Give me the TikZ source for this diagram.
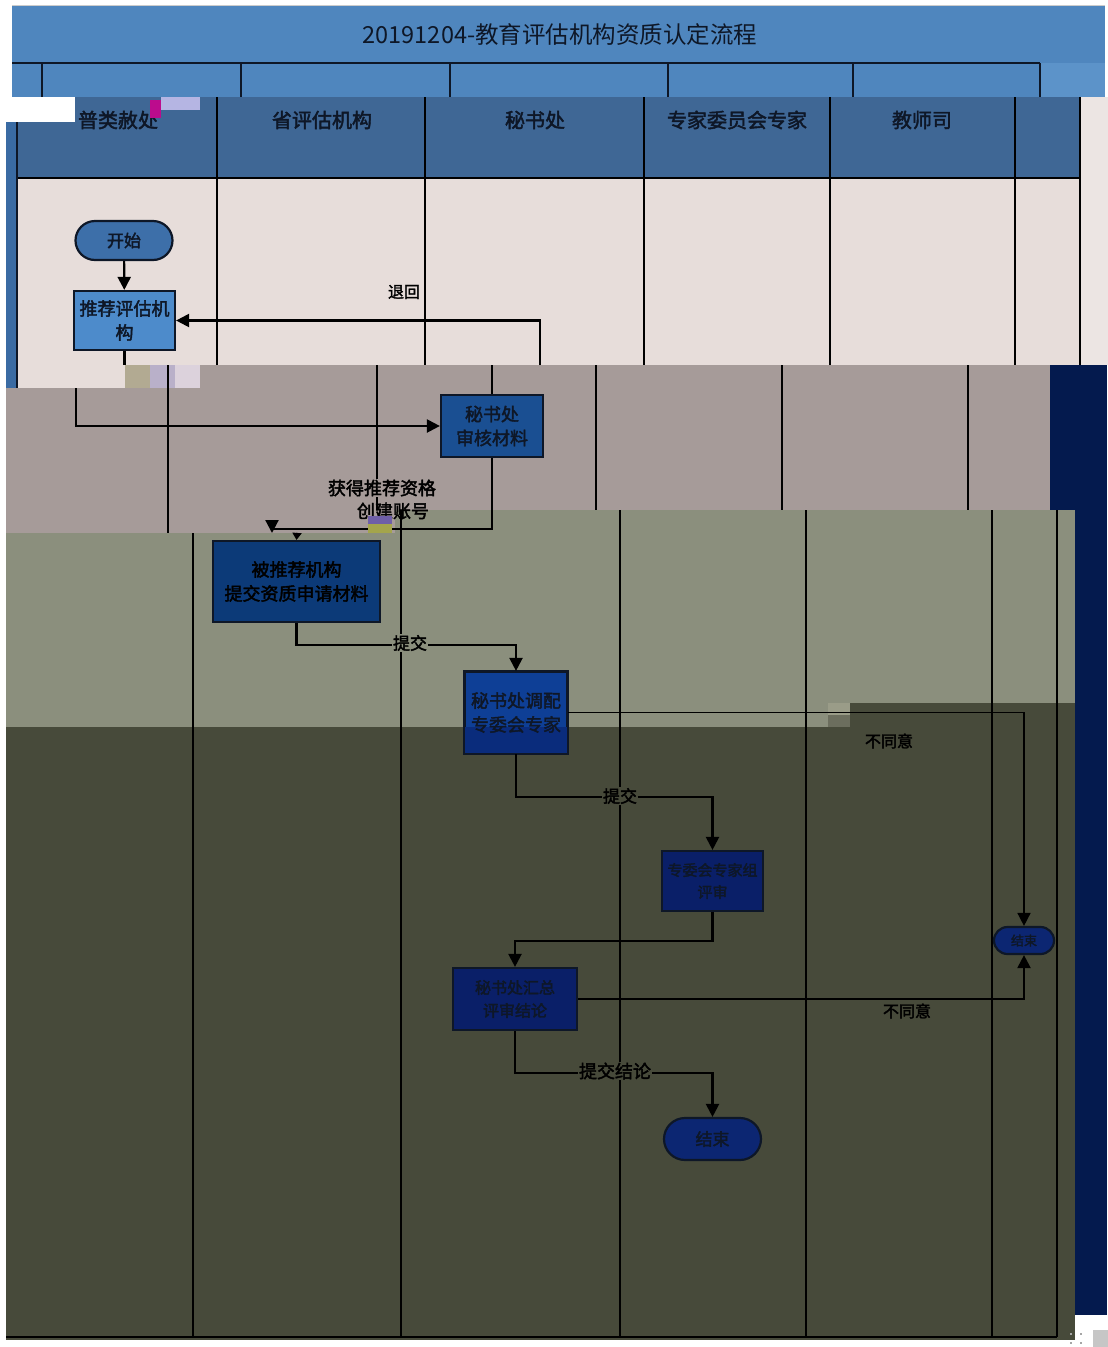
\documentclass[tikz,border=0pt]{standalone}
\usepackage{fontspec}
\setmainfont{Noto Sans CJK SC}[AutoFakeBold=2.2]
\usetikzlibrary{arrows.meta,shapes.misc}
\definecolor{titleblue}{HTML}{4F86BE}
\definecolor{titlelight}{HTML}{5C93C9}
\definecolor{hdrblue}{HTML}{3F6795}
\definecolor{stripblue}{HTML}{3A6BA3}
\definecolor{pinkbg}{HTML}{E7DDDA}
\definecolor{edgelight}{HTML}{ECE5E3}
\definecolor{mauve}{HTML}{A69B99}
\definecolor{sage}{HTML}{8B8F7D}
\definecolor{olive}{HTML}{474A3A}
\definecolor{navystrip}{HTML}{041A4E}
\definecolor{inkdark}{HTML}{0E1727}
\definecolor{startfill}{HTML}{3D6FA9}
\definecolor{lightbox}{HTML}{4D8BCB}
\definecolor{secbox}{HTML}{1A4F92}
\definecolor{dbox}{HTML}{0C3A78}
\definecolor{boxthree}{HTML}{0E3F96}
\definecolor{boxthreedark}{HTML}{0A2C7C}
\definecolor{ebox}{HTML}{0A1F68}
\definecolor{endfill}{HTML}{0C2672}
\definecolor{gA}{HTML}{B2AA92}
\definecolor{gB}{HTML}{B9B0C9}
\definecolor{gC}{HTML}{DCD2DC}
\definecolor{gD}{HTML}{9A9C88}
\definecolor{gE}{HTML}{6C6E5E}
\definecolor{gF}{HTML}{6F5FA8}
\definecolor{gG}{HTML}{A4A54C}
\tikzset{
  lane/.style={draw=black, line width=2.6pt},
  conn/.style={draw=black, line width=2.2pt},
  arr/.style={-{Triangle[length=13pt,width=13pt]}},
  proc/.style={draw=inkdark, line width=2.2pt, rectangle, align=center, inner sep=2pt,
     font=\fontsize{18}{24}\selectfont\bfseries},
  term/.style={draw=inkdark, line width=2.2pt, rounded rectangle, align=center, inner sep=2pt,
     font=\fontsize{17}{20}\selectfont\bfseries},
  hdr/.style={text=inkdark, font=\fontsize{20}{24}\selectfont\bfseries},
  lbl/.style={text=black, inner sep=1pt, font=\fontsize{17}{20}\selectfont\bfseries},
}
\begin{document}
\begin{tikzpicture}[x=1pt,y=-1pt]
\useasboundingbox (0,0) rectangle (1108,1347);
\fill[white] (0,0) rectangle (1108,1347);
% ---------- band A : title ----------
\fill[titleblue] (12,5) rectangle (1105,63);
\draw[gray!40, line width=1pt] (12,5) -- (1105,5);
\fill[titleblue] (12,63) rectangle (1040,97);
\fill[titlelight] (1040,63) rectangle (1105,97);
\draw[inkdark, line width=1.8pt] (12,63) -- (1040,63);
\foreach \x in {42,241,450,668,853,1040} \draw[inkdark, line width=1.6pt] (\x,63) -- (\x,97);
\node[text=inkdark, font=\fontsize{23.5}{28}\selectfont] (title) at (560,35) {20191204-教育评估机构资质认定流程};
% ---------- band B : lane headers + first row ----------
\fill[hdrblue] (75,97) rectangle (1080,178);
\fill[hdrblue] (17,122) rectangle (75,178);
\fill[stripblue] (6,122) rectangle (17,388);
\fill[pinkbg] (17,178) rectangle (1080,365);
\fill[pinkbg] (17,365) rectangle (125,388);
\fill[edgelight] (1080,97) rectangle (1108,365);
\draw[lane] (17,178) -- (1080,178);
\foreach \x in {217,425,644,830,1015,1080} \draw[lane] (\x,97) -- (\x,365);
\draw[inkdark, line width=1.6pt] (17,122) -- (17,388);
\node[hdr] (h1) at (118,120) {普类赦处};
\fill[magenta!75!blue] (150,100) rectangle (161,118);
\fill[gray!55!blue!40] (161,97) rectangle (200,110);
\node[hdr] (h2) at (322,120) {省评估机构};
\node[hdr] (h3) at (535,120) {秘书处};
\node[hdr] (h4) at (737,120) {专家委员会专家};
\node[hdr] (h5) at (922,120) {教师司};
% glitch strip
\fill[gA] (125,365) rectangle (150,388);
\fill[gB] (150,365) rectangle (175,388);
\fill[gC] (175,365) rectangle (200,388);
% ---------- band C ----------
\fill[mauve] (6,388) rectangle (395,533);
\fill[mauve] (200,365) rectangle (1050,510);
\fill[navystrip] (1050,365) rectangle (1107,510);
\draw[lane] (168,365) -- (168,533);
\foreach \x in {377,596,782,968} \draw[lane] (\x,365) -- (\x,510);
% ---------- band D ----------
\fill[sage] (6,533) rectangle (1075,727);
\fill[sage] (395,510) rectangle (1075,533);
% ---------- band E ----------
\fill[olive] (6,727) rectangle (1075,1340);
\fill[olive] (850,703) rectangle (1075,727);
\fill[gD] (828,703) rectangle (850,715);
\fill[gE] (828,715) rectangle (850,727);
\fill[navystrip] (1075,365) rectangle (1107,1315);
\foreach \x in {401,620,806,992,1057} \draw[lane] (\x,510) -- (\x,1337);
\draw[lane] (193,533) -- (193,1337);
\draw[lane] (6,1337) -- (1057,1337);
\fill[gray!45] (1093,1330) rectangle (1108,1347);
\foreach \x in {1070,1080} \foreach \y in {1333,1342} \fill[gray!70] (\x,\y) rectangle ++(2,2);
% ---------- nodes ----------
\node[term, fill=startfill, text=inkdark, minimum width=101pt, minimum height=39pt] (start) at (124,240.5) {开始};
\node[proc, fill=lightbox, text=inkdark, minimum width=101pt, minimum height=59pt] (tuijian) at (124.5,320.5) {推荐评估机\\构};
\node[proc, fill=secbox, text=inkdark, minimum width=102pt, minimum height=62pt] (shenhe) at (492,426) {秘书处\\审核材料};
\node[proc, fill=dbox, text=black, minimum width=167pt, minimum height=81pt] (tijiao) at (296.5,581.5) {被推荐机构\\提交资质申请材料};
\node[proc, fill=boxthree, minimum width=102pt, minimum height=81pt] (tiaopei) at (516,712.5) {};
\fill[boxthreedark] (tiaopei.west |- 0,727) rectangle (tiaopei.south east);
\draw[inkdark, line width=2.2pt] (tiaopei.north west) rectangle (tiaopei.south east);
\node[text=inkdark, align=center, font=\fontsize{18}{24}\selectfont\bfseries] (tiaopeitxt) at (tiaopei) {秘书处调配\\专委会专家};
\node[proc, fill=ebox, text=inkdark, minimum width=101pt, minimum height=60pt, font=\fontsize{15}{22}\selectfont\bfseries] (pingshen) at (712.5,881) {专委会专家组\\评审};
\node[proc, fill=ebox, text=inkdark, minimum width=124pt, minimum height=62pt, font=\fontsize{16}{23}\selectfont\bfseries] (huizong) at (515,999) {秘书处汇总\\评审结论};
\node[term, fill=endfill, text=inkdark, minimum width=64pt, minimum height=27pt, font=\fontsize{13}{15}\selectfont\bfseries] (end1) at (1024,940.5) {结束};
\node[term, fill=endfill, text=inkdark, minimum width=101pt, minimum height=42pt] (end2) at (712.5,1139) {结束};
% ---------- connectors ----------
\draw[conn, arr] (start) -- (tuijian);
\coordinate (r1) at (540,365);
\draw[conn, arr] (r1) |- (tuijian.east);
\node[lbl, font=\fontsize{16}{19}\selectfont\bfseries] (tuihui) at (404,292) {退回};
\coordinate (b1) at (124.5,365);
\draw[conn] (tuijian.south) -- (b1);
\coordinate (c1) at (76,388);
\draw[conn, arr] (c1) |- (shenhe.west);
\coordinate (c0) at (492,365);
\draw[conn] (shenhe.north) -- (c0);
\coordinate (c2) at (272,533);
\draw[conn, arr] (shenhe.south) -- ++(0,71) -| (c2);
\node[lbl, fill=mauve, font=\fontsize{18}{21}\selectfont\bfseries] (l1) at (382,488) {获得推荐资格};
\node[lbl, font=\fontsize{18}{21}\selectfont\bfseries] (l2) at (393,511) {创建账号};
\fill[gF] (368,516) rectangle (392,524);
\fill[gG] (368,524) rectangle (392,533);
\coordinate (d1) at (297,533);
\draw[conn, -{Triangle[length=7pt,width=9pt]}] (d1) -- (tijiao.north);
\draw[conn, arr] (tijiao.south) -- ++(0,21.5) -| (tiaopei.north);
\node[lbl, fill=sage] (l3) at (410,643) {提交};
\draw[black, line width=1.6pt, arr] (tiaopei.east) -| (end1.north);
\node[lbl, font=\fontsize{16}{19}\selectfont\bfseries] (l4) at (889,741) {不同意};
\draw[conn, arr] (tiaopei.south) -- ++(0,43) -| (pingshen.north);
\node[lbl, fill=olive] (l5) at (620,796) {提交};
\draw[conn, arr] (pingshen.south) -- ++(0,29) -| (huizong.north);
\draw[conn, arr] (huizong.east) -| (end1.south);
\node[lbl, font=\fontsize{16}{19}\selectfont\bfseries] (l6) at (907,1011) {不同意};
\draw[conn, arr] (huizong.south) -- ++(0,42) -| (end2.north);
\node[lbl, fill=olive, font=\fontsize{18}{21}\selectfont\bfseries] (l7) at (615,1071) {提交结论};
\end{tikzpicture}
\end{document}
